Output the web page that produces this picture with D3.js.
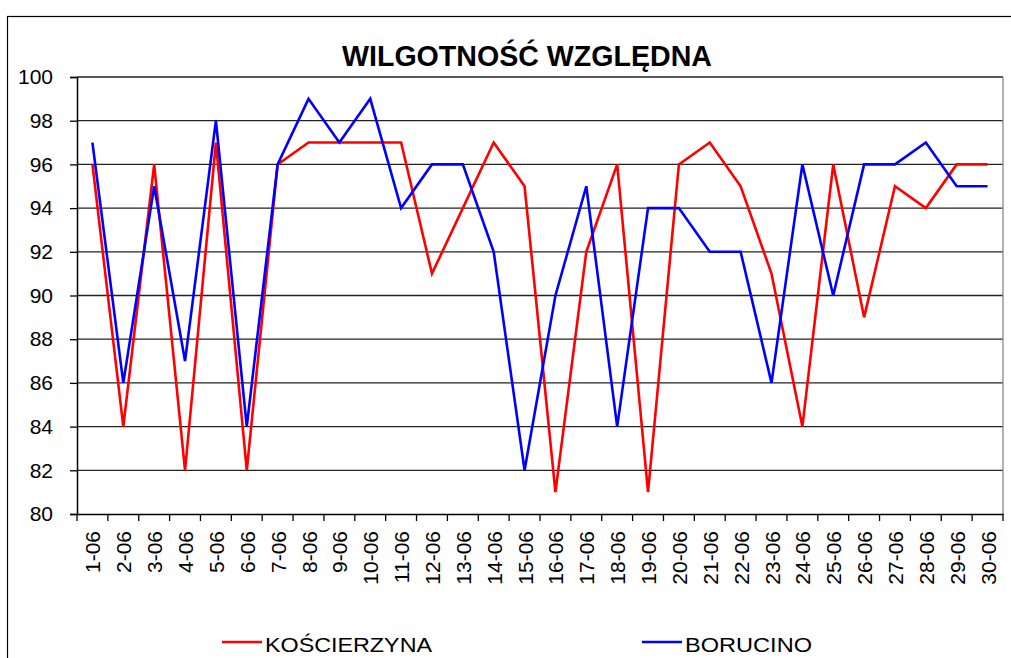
<!DOCTYPE html>
<html><head><meta charset="utf-8">
<script src="https://cdn.jsdelivr.net/npm/d3@7"></script>
<style>html,body{margin:0;padding:0;background:#fff;}svg{display:block;}</style>
</head><body>
<script>
const categories = ["1-06","2-06","3-06","4-06","5-06","6-06","7-06","8-06","9-06","10-06","11-06","12-06","13-06","14-06","15-06","16-06","17-06","18-06","19-06","20-06","21-06","22-06","23-06","24-06","25-06","26-06","27-06","28-06","29-06","30-06"];
const koscierzyna = [96,84,96,82,97,82,96,97,97,97,97,91,94,97,95,81,92,96,81,96,97,95,91,84,96,89,95,94,96,96];
const borucino = [97,86,95,87,98,84,96,99,97,99,94,96,96,92,82,90,95,84,94,94,92,92,86,96,90,96,96,97,95,95];
const yTicks = [80,82,84,86,88,90,92,94,96,98,100];
const seriesNames = ["KOŚCIERZYNA","BORUCINO"];
const seriesColors = ["#ff0000","#0000ff"];
const title = "WILGOTNOŚĆ WZGLĘDNA";

const W = 1011, H = 658;
const m = {left:77, right:1003, top:77, bottom:514};
const FONT = "Liberation Sans, Arial, sans-serif";
const svg = d3.select("body").append("svg").attr("width",W).attr("height",H);
svg.append("rect").attr("x",7.5).attr("y",16.5).attr("width",W+10).attr("height",H+10)
  .attr("fill","#fff").attr("stroke","#000").attr("stroke-width",1.2);

const x = d3.scaleBand().domain(categories).range([m.left,m.right]);
const y = d3.scaleLinear().domain([80,100]).range([m.bottom,m.top]);

// gridlines
svg.append("g").selectAll("line").data(yTicks.filter(v=>v>80)).join("line")
  .attr("x1",m.left).attr("x2",m.right).attr("y1",d=>y(d)).attr("y2",d=>y(d))
  .attr("stroke","#222").attr("stroke-width",1.3);
svg.append("line").attr("x1",m.right).attr("x2",m.right).attr("y1",m.top).attr("y2",m.bottom)
  .attr("stroke","#888").attr("stroke-width",1.3);

// y axis
const yAx = svg.append("g").attr("transform",`translate(${m.left},0)`)
  .call(d3.axisLeft(y).tickValues(yTicks).tickSize(7).tickPadding(17).tickFormat(d3.format("d")));
yAx.select(".domain").attr("stroke","#000").attr("stroke-width",1.5);
yAx.selectAll(".tick line").attr("stroke","#000").attr("stroke-width",1.3);
yAx.selectAll("text").attr("font-family",FONT).attr("font-size",21).attr("fill","#000");

// x axis
const xAx = svg.append("g").attr("transform",`translate(0,${m.bottom})`)
  .call(d3.axisBottom(x).tickValues([]).tickSizeOuter(0));
xAx.select(".domain").attr("stroke","#000").attr("stroke-width",1.5);
const bounds = categories.map(c=>x(c)).concat([m.right]);
svg.append("g").selectAll("line").data(bounds).join("line")
  .attr("x1",d=>d).attr("x2",d=>d).attr("y1",m.bottom).attr("y2",m.bottom+7)
  .attr("stroke","#000").attr("stroke-width",1.3);
svg.append("g").selectAll("text").data(categories).join("text")
  .attr("transform",d=>`translate(${x(d)+x.bandwidth()/2+8},${m.bottom+17}) rotate(-90)`)
  .attr("text-anchor","end")
  .attr("font-family",FONT).attr("font-size",21).attr("fill","#000")
  .text(d=>d);

// lines
const line = d3.line().x((d,i)=>x(categories[i])+x.bandwidth()/2).y(d=>y(d));
[koscierzyna,borucino].forEach((s,k)=>{
  svg.append("path").datum(s).attr("d",line).attr("fill","none")
    .attr("stroke",seriesColors[k]).attr("stroke-width",2.6).attr("stroke-linejoin","miter");
});

// title
svg.append("text").attr("x",527).attr("y",66).attr("text-anchor","middle")
  .attr("font-family",FONT).attr("font-weight","bold").attr("font-size",29)
  .attr("textLength",370).attr("lengthAdjust","spacingAndGlyphs").text(title);

// legend
const legX = [222,642];
const legLen = [167,127];
seriesNames.forEach((n,k)=>{
  svg.append("line").attr("x1",legX[k]).attr("x2",legX[k]+40).attr("y1",642).attr("y2",642)
    .attr("stroke",seriesColors[k]).attr("stroke-width",2.6);
  svg.append("text").attr("x",legX[k]+43).attr("y",652)
    .attr("font-family",FONT).attr("font-size",20.5).attr("fill","#000")
    .attr("textLength",legLen[k]).attr("lengthAdjust","spacingAndGlyphs").text(n);
});
</script>
</body></html>
